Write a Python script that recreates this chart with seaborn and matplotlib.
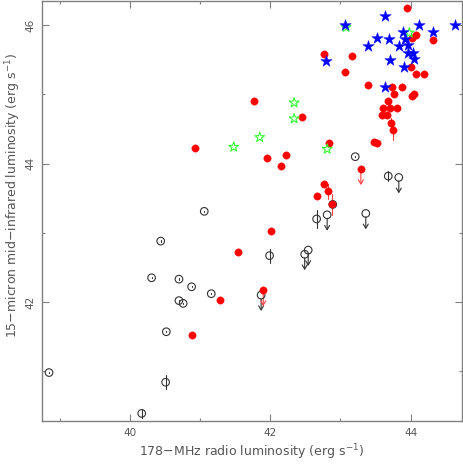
import numpy as np
import pandas as pd
import matplotlib
matplotlib.use("Agg")
import matplotlib.pyplot as plt
import seaborn as sns
from matplotlib.ticker import MultipleLocator

# open circles (black), with y error / upper-limit flags
circ_x = [38.85, 40.17, 40.51, 40.52, 40.31, 40.44, 40.70, 40.88, 40.70, 40.76, 41.16, 41.06,
          41.99, 41.87, 42.49, 42.54, 42.66, 42.81, 42.89, 43.21, 43.36, 43.68, 43.83]
circ_y = [40.98, 40.39, 40.84, 41.57, 42.35, 42.88, 42.33, 42.22, 42.02, 41.98, 42.12, 43.31,
          42.67, 42.10, 42.69, 42.75, 43.20, 43.26, 43.41, 44.10, 43.28, 43.82, 43.80]
circ_err = [0.01, 0.07, 0.10, 0.01, 0.01, 0.01, 0.01, 0.01, 0.01, 0.01, 0.01, 0.01,
            0.10, 0.0, 0.0, 0.0, 0.13, 0.0, 0.01, 0.01, 0.0, 0.07, 0.0]
circ_lim = [0, 0, 0, 0, 0, 0, 0, 0, 0, 0, 0, 0,
            0, 1, 1, 1, 0, 1, 0, 0, 1, 0, 1]

# filled red circles
red_x = [43.94, 44.07, 44.02, 44.32, 42.76, 43.17, 43.07, 44.00, 44.08, 44.19, 43.39, 43.74,
         43.87, 43.76, 44.05, 44.02, 41.77, 43.67, 43.60, 43.70, 43.80, 43.59, 43.66, 43.72,
         43.75, 42.45, 43.47, 43.52, 42.83, 40.93, 41.95, 42.23, 42.16, 43.29, 42.76, 42.82,
         42.66, 42.88, 42.01, 41.54, 41.90, 41.29, 40.88]
red_y = [46.25, 45.86, 45.82, 45.79, 45.59, 45.55, 45.32, 45.40, 45.30, 45.30, 45.13, 45.10,
         45.10, 45.00, 45.00, 44.97, 44.91, 44.90, 44.80, 44.80, 44.80, 44.70, 44.70, 44.58,
         44.48, 44.67, 44.31, 44.30, 44.30, 44.22, 44.08, 44.13, 43.96, 43.92, 43.71, 43.60,
         43.53, 43.41, 43.02, 42.72, 42.17, 42.03, 41.52]
red_err = [0] * 23 + [0.08, 0.14] + [0] * 10 + [0.11, 0, 0.15] + [0] * 5
red_lim = [0] * 33 + [1] + [0] * 6 + [1, 0, 0]

# blue filled stars
blue_x = [43.07, 43.64, 44.12, 44.63, 44.32, 43.89, 43.52, 43.69, 43.39, 43.92, 43.84, 43.96,
          43.96, 44.03, 44.04, 43.71, 43.90, 43.64, 42.80]
blue_y = [46.01, 46.14, 46.00, 46.00, 45.90, 45.90, 45.81, 45.80, 45.70, 45.80, 45.70, 45.71,
          45.60, 45.60, 45.51, 45.50, 45.40, 45.10, 45.49]

# green open stars
green_x = [43.08, 43.98, 42.34, 42.34, 41.85, 41.48, 42.81]
green_y = [45.97, 45.89, 44.88, 44.65, 44.38, 44.24, 44.21]

circ = pd.DataFrame({"x": circ_x, "y": circ_y, "err": circ_err, "lim": circ_lim})
red = pd.DataFrame({"x": red_x, "y": red_y, "err": red_err, "lim": red_lim})

sns.set_style("ticks")
plt.rcParams["font.family"] = ["DejaVu Sans"]
axcol = "#808080"
txtcol = "#555555"

fig = plt.figure(figsize=(4.63, 4.67), dpi=100)
ax = fig.add_axes([42 / 463, 46 / 467, 420 / 463, 420 / 467])

# error bars and upper-limit arrows
for _, r in circ[circ.err > 0].iterrows():
    ax.plot([r.x, r.x], [r.y - r.err, r.y + r.err], color="#333333", lw=0.8, zorder=1)
for _, r in circ[circ.lim == 1].iterrows():
    ax.annotate("", xy=(r.x, r.y - 0.23), xytext=(r.x, r.y - 0.05),
                arrowprops=dict(arrowstyle="->,head_length=0.3,head_width=0.18",
                                color="#333333", lw=0.8, shrinkA=0, shrinkB=0), zorder=1)
for _, r in red[red.err > 0].iterrows():
    ax.plot([r.x, r.x], [r.y - r.err, r.y + r.err], color="#ff4040", lw=0.8, zorder=2)
for _, r in red[red.lim == 1].iterrows():
    ax.annotate("", xy=(r.x, r.y - 0.23), xytext=(r.x, r.y),
                arrowprops=dict(arrowstyle="->,head_length=0.3,head_width=0.18",
                                color="#ff4040", lw=0.8, shrinkA=0, shrinkB=0), zorder=2)

sns.scatterplot(data=circ, x="x", y="y", marker="o", s=30, facecolor="none",
                edgecolor="#333333", linewidth=0.8, ax=ax, zorder=3)
sns.scatterplot(data=red, x="x", y="y", marker="o", s=28, color="#ff0000",
                edgecolor="#ff0000", linewidth=0.3, ax=ax, zorder=4)
sns.scatterplot(x=green_x, y=green_y, marker="*", s=55, facecolor="none",
                edgecolor="#33ff33", linewidth=0.8, ax=ax, zorder=5)
sns.scatterplot(x=blue_x, y=blue_y, marker="*", s=75, color="#0000ff",
                edgecolor="#0000ff", linewidth=0.3, ax=ax, zorder=6)

ax.set_xlim(38.75, 44.73)
ax.set_ylim(40.28, 46.35)
ax.xaxis.set_major_locator(MultipleLocator(2))
ax.xaxis.set_minor_locator(MultipleLocator(1))
ax.yaxis.set_major_locator(MultipleLocator(2))
ax.yaxis.set_minor_locator(MultipleLocator(1))
ax.tick_params(which="both", direction="in", top=True, right=True, color=axcol,
               labelcolor=txtcol, labelsize=7.5, width=0.8)
ax.tick_params(which="major", length=5)
ax.tick_params(which="minor", length=2.5)
ax.tick_params(axis="x", pad=5)
ax.tick_params(axis="y", pad=5)
for lab in ax.get_yticklabels():
    lab.set_rotation(90)
    lab.set_va("center")
for sp in ax.spines.values():
    sp.set_color(axcol)
    sp.set_linewidth(1.0)

ax.set_xlabel("178\u2212MHz radio luminosity (erg s$^{-1}$)", fontsize=9, color=txtcol)
ax.set_ylabel("15\u2212micron mid\u2212infrared luminosity (erg s$^{-1}$)", fontsize=9, color=txtcol)
ax.xaxis.set_label_coords(0.5, -0.05)
ax.yaxis.set_label_coords(-0.045, 0.536)

fig.savefig("out.png", dpi=100)
